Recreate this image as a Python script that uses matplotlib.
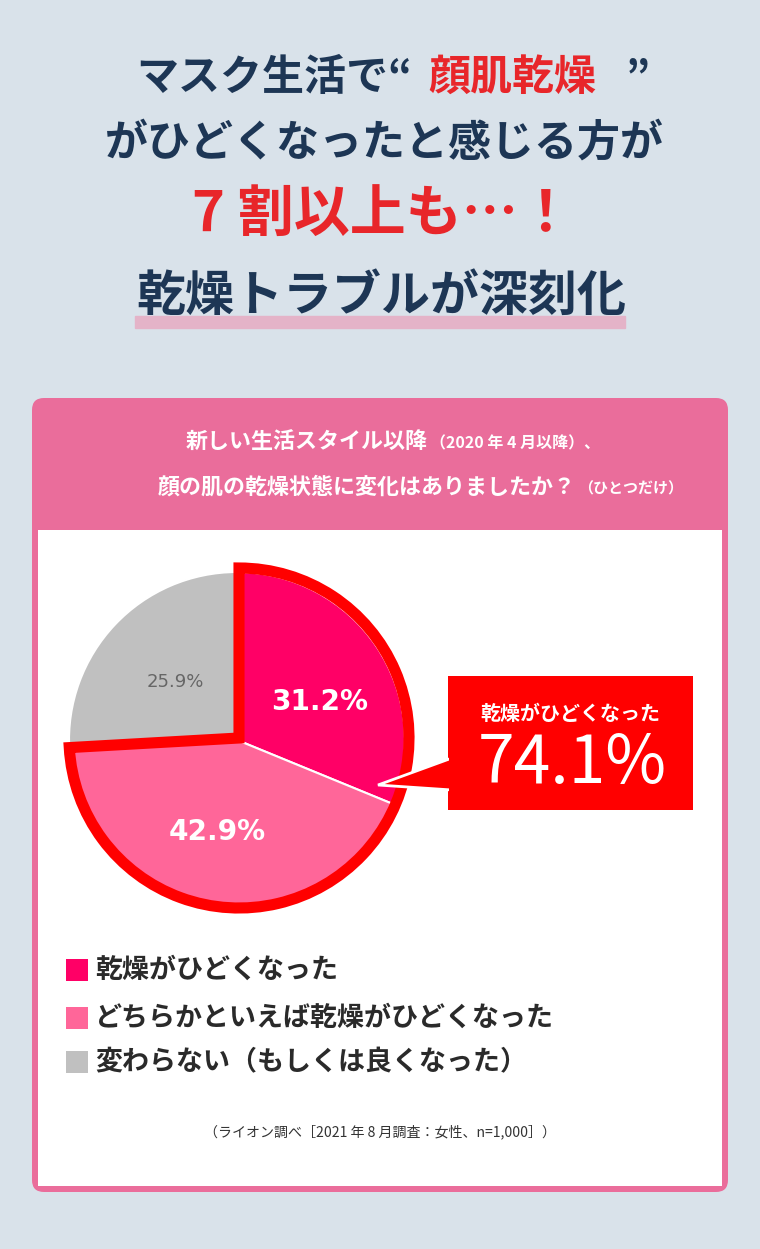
import matplotlib
matplotlib.use("Agg")
import matplotlib.pyplot as plt
from matplotlib.patches import FancyBboxPatch, Rectangle, Wedge, Polygon

categories = ["乾燥がひどくなった", "どちらかといえば乾燥がひどくなった", "変わらない（もしくは良くなった）"]
values = [31.2, 42.9, 25.9]
colors = ["#ff0066", "#ff6699", "#c0c0c0"]
highlight_total = "74.1%"

F = "Noto Sans CJK JP"
fig = plt.figure(figsize=(7.6, 12.49), dpi=100)
fig.patch.set_facecolor("#d9e2ea")
ax = fig.add_axes([0, 0, 1, 1])
ax.set_xlim(0, 760); ax.set_ylim(1249, 0); ax.axis("off")
ax.set_aspect("equal")
def px(p): return p * 0.72

navy = "#1d3655"
# Title
ax.text(412, 78, "マスク生活で“", ha="right", va="center", fontsize=px(42), color=navy, fontfamily=F, fontweight="bold")
ax.text(428, 78, "顔肌乾燥", ha="left", va="center", fontsize=px(42), color="#e8262a", fontfamily=F, fontweight="bold")
ax.text(650, 78, "”", ha="right", va="center", fontsize=px(42), color=navy, fontfamily=F, fontweight="bold")
ax.text(384, 143, "がひどくなったと感じる方が", ha="center", va="center", fontsize=px(43), color=navy, fontfamily=F, fontweight="bold")
ax.text(383, 216, "7 割以上も…！", ha="center", va="center", fontsize=px(56), color="#e8262a", fontfamily=F, fontweight="bold")
ax.add_patch(Rectangle((135, 316), 490, 12, color="#e4b3c8", zorder=1))
ax.text(381, 296, "乾燥トラブルが深刻化", ha="center", va="center", fontsize=px(49), color=navy, fontfamily=F, fontweight="bold", zorder=2)

# Panel
ax.add_patch(FancyBboxPatch((32, 398), 696, 794, boxstyle="round,pad=0,rounding_size=12", fc="#ea6d9b", ec="none"))
ax.add_patch(Rectangle((38, 530), 684, 656, fc="white", ec="none"))
ax.text(428, 442, "新しい生活スタイル以降", ha="right", va="center", fontsize=px(22), color="white", fontfamily=F, fontweight="bold")
ax.text(430, 443, "（2020 年 4 月以降）、", ha="left", va="center", fontsize=px(16), color="white", fontfamily=F, fontweight="bold")
ax.text(576, 487, "顔の肌の乾燥状態に変化はありましたか？", ha="right", va="center", fontsize=px(22), color="white", fontfamily=F, fontweight="bold")
ax.text(578, 488, "（ひとつだけ）", ha="left", va="center", fontsize=px(15), color="white", fontfamily=F, fontweight="bold")

# Pie
cx, cy, r = 237, 740, 168
total = sum(values)
hl = values[0] + values[1]
ax.add_patch(Wedge((cx + 2, cy + 8), r + 2, 270, 270 + 360 * hl / total, fc="#f06aa0", ec="none", zorder=0.5))
ax.pie(values, colors=colors, startangle=270, counterclock=True, center=(cx, cy), radius=r,
       wedgeprops=dict(edgecolor="white", linewidth=1.5, zorder=1), frame=True)
ax.set_xlim(0, 760); ax.set_ylim(1249, 0); ax.axis("off")
ax.add_patch(Wedge((cx + 2, cy - 2), r + 2, 270, 270 + 360 * hl / total, fc="none", ec="#ff0000", lw=8, zorder=5))
ax.text(320, 702, f"{values[0]}%", ha="center", va="center", fontsize=px(28), color="white", fontweight="bold", zorder=6)
ax.text(217, 832, f"{values[1]}%", ha="center", va="center", fontsize=px(28), color="white", fontweight="bold", zorder=6)
ax.text(175, 682, f"{values[2]}%", ha="center", va="center", fontsize=px(18), color="#666666", zorder=6)

# Callout
ax.add_patch(Rectangle((448, 676), 245, 134, fc="#ff0000", ec="none", zorder=6))
ax.add_patch(Polygon([(452, 758), (378, 785), (452, 790)], closed=True, fc="#ff0000", ec="white", lw=2, zorder=6))
ax.add_patch(Rectangle((449, 756), 8, 36, fc="#ff0000", ec="none", zorder=7))
ax.text(570, 713, categories[0], ha="center", va="center", fontsize=px(20), color="white", fontfamily=F, fontweight="bold", zorder=8)
ax.text(572, 764, highlight_total, ha="center", va="center", fontsize=px(66), color="white", fontfamily=F, zorder=8)

# Legend
for i, (c, lab) in enumerate(zip(colors, categories)):
    y = [970, 1018, 1062][i]
    ax.add_patch(Rectangle((66, y - 11), 22, 22, fc=c, ec="none"))
    ax.text(95, y, lab, ha="left", va="center", fontsize=px(27), color="#2a2a2a", fontfamily=F, fontweight="bold")

ax.text(380, 1132, "（ライオン調べ［2021 年 8 月調査：女性、n=1,000］）", ha="center", va="center", fontsize=px(14), color="#333333", fontfamily=F)

fig.savefig("out.png", dpi=100, facecolor=fig.get_facecolor())
